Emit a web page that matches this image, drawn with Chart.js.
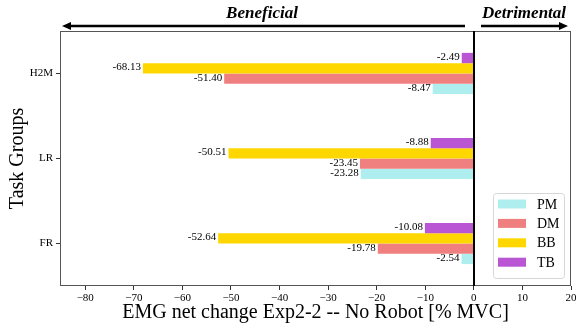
<!DOCTYPE html>
<html>
<head>
<meta charset="utf-8">
<script src="https://cdn.jsdelivr.net/npm/chart.js@4.4.0/dist/chart.umd.min.js"></script>
<style>
  html, body { margin: 0; padding: 0; background: #fff; }
  #wrap { width: 576px; height: 325px; }
</style>
</head>
<body>
<div id="wrap"><canvas id="c" width="576" height="325"></canvas></div>
<script>
// Task groups (top to bottom)
const categories = ['H2M', 'LR', 'FR'];

// EMG net change per muscle, one value per task group
const pmValues = [-8.47, -23.28, -2.54];
const dmValues = [-51.40, -23.45, -19.78];
const bbValues = [-68.13, -50.51, -52.64];
const tbValues = [-2.49, -8.88, -10.08];

// X-axis limits and tick spacing
const xMin = -85.2;
const xMax = 20;
const xStep = 10;

const SERIF = '"Liberation Serif", "DejaVu Serif", serif';

// Within each group the bars run TB, BB, DM, PM from top to bottom
const datasets = [
  { label: 'TB', data: tbValues, backgroundColor: '#BA55D3' },
  { label: 'BB', data: bbValues, backgroundColor: '#FFD700' },
  { label: 'DM', data: dmValues, backgroundColor: '#F08080' },
  { label: 'PM', data: pmValues, backgroundColor: '#AFEEEE' }
];

// Frame, zero line, value labels, direction arrows and the legend box
const decorations = {
  id: 'decorations',
  afterDatasetsDraw(chart) {
    const ctx = chart.ctx;
    const area = chart.chartArea;
    const xs = chart.scales.x;

    ctx.save();
    // value labels at the end of each bar
    ctx.font = '11px ' + SERIF;
    ctx.fillStyle = '#000';
    ctx.textAlign = 'right';
    ctx.textBaseline = 'middle';
    chart.data.datasets.forEach((ds, di) => {
      const meta = chart.getDatasetMeta(di);
      meta.data.forEach((el, i) => {
        const v = ds.data[i];
        ctx.fillText(v.toFixed(2), el.x - 2, el.y - 1);
      });
    });

    // axes frame
    ctx.strokeStyle = '#555';
    ctx.lineWidth = 1;
    ctx.strokeRect(area.left + 0.5, area.top + 0.5, area.right - area.left - 1, area.bottom - area.top - 1);

    // zero reference line
    const x0 = Math.round(xs.getPixelForValue(0));
    ctx.strokeStyle = '#000';
    ctx.lineWidth = 2;
    ctx.beginPath();
    ctx.moveTo(x0, area.top);
    ctx.lineTo(x0, area.bottom);
    ctx.stroke();

    // direction arrows above the plot
    const ay = 26;
    function arrow(x1, x2) {
      ctx.strokeStyle = '#000';
      ctx.fillStyle = '#000';
      ctx.lineWidth = 2.5;
      ctx.beginPath();
      ctx.moveTo(x1, ay);
      ctx.lineTo(x2 - Math.sign(x2 - x1) * 6, ay);
      ctx.stroke();
      const d = Math.sign(x2 - x1);
      ctx.beginPath();
      ctx.moveTo(x2, ay);
      ctx.lineTo(x2 - d * 9, ay - 4);
      ctx.lineTo(x2 - d * 9, ay + 4);
      ctx.closePath();
      ctx.fill();
    }
    arrow(465, 62);
    arrow(481, 568);
    ctx.font = 'italic bold 17px ' + SERIF;
    ctx.textAlign = 'center';
    ctx.textBaseline = 'alphabetic';
    ctx.fillText('Beneficial', 262, 18);
    ctx.fillText('Detrimental', 524, 18);

    // legend (PM, DM, BB, TB)
    const order = ['PM', 'DM', 'BB', 'TB'];
    const bx = 493, by = 193, bw = 71, bh = 85;
    ctx.fillStyle = 'rgba(255,255,255,0.85)';
    ctx.strokeStyle = '#d6d6d6';
    ctx.lineWidth = 1;
    ctx.beginPath();
    ctx.roundRect(bx + 0.5, by + 0.5, bw, bh, 3);
    ctx.fill();
    ctx.stroke();
    ctx.font = '14px ' + SERIF;
    ctx.textAlign = 'left';
    ctx.textBaseline = 'middle';
    order.forEach((name, k) => {
      const ds = chart.data.datasets.find(d => d.label === name);
      const cy = by + 11 + k * 19.4;
      ctx.fillStyle = ds.backgroundColor;
      ctx.fillRect(bx + 5, cy - 4.5, 28, 9);
      ctx.fillStyle = '#000';
      ctx.fillText(name, bx + 44, cy + 1);
    });
    ctx.restore();
  }
};

new Chart(document.getElementById('c'), {
  type: 'bar',
  data: { labels: categories, datasets: datasets },
  options: {
    indexAxis: 'y',
    responsive: false,
    animation: false,
    layout: { padding: { top: 31, right: 5, left: 6, bottom: 0 } },
    datasets: {
      bar: { categoryPercentage: 0.485, barPercentage: 1.0, borderWidth: 0 }
    },
    plugins: {
      legend: { display: false },
      tooltip: { enabled: false }
    },
    scales: {
      x: {
        type: 'linear',
        min: xMin,
        max: xMax,
        grid: { display: true, drawOnChartArea: false, drawTicks: true, tickLength: 4, tickColor: '#333' },
        border: { display: false },
        ticks: {
          stepSize: xStep,
          includeBounds: false,
          color: '#000',
          padding: 2,
          font: { family: SERIF, size: 11 },
          callback: v => String(v).replace('-', '\u2212')
        },
        title: {
          display: true,
          text: 'EMG net change Exp2-2 -- No Robot [% MVC]',
          color: '#000',
          font: { family: SERIF, size: 20 },
          padding: { top: 0, bottom: 0 }
        },
        afterFit: s => { s.height = 39; s.paddingLeft = 0; s.paddingRight = 0; }
      },
      y: {
        grid: { display: true, offset: false, drawOnChartArea: false, drawTicks: true, tickLength: 4, tickColor: '#333' },
        border: { display: false },
        ticks: {
          color: '#000',
          padding: 3,
          font: { family: SERIF, size: 11 }
        },
        title: {
          display: true,
          text: 'Task Groups',
          color: '#000',
          font: { family: SERIF, size: 20 },
          padding: { top: 0, bottom: 0 }
        },
        afterFit: s => { s.width = 54; }
      }
    }
  },
  plugins: [decorations]
});
</script>
</body>
</html>
